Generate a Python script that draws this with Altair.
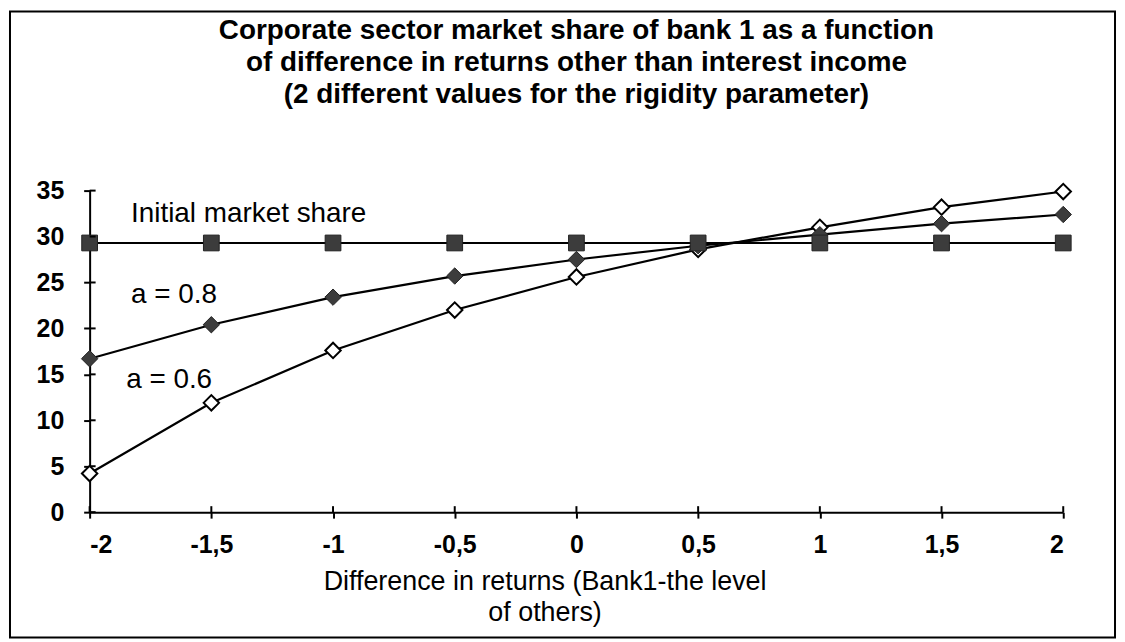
import altair as alt
import pandas as pd

# ---- data ----
x_vals = [-2, -1.5, -1, -0.5, 0, 0.5, 1, 1.5, 2]
initial_share = [29.3, 29.3, 29.3, 29.3, 29.3, 29.3, 29.3, 29.3, 29.3]
a_08 = [16.7, 20.4, 23.4, 25.7, 27.5, 29.0, 30.2, 31.4, 32.4]
a_06 = [4.2, 11.9, 17.6, 22.0, 25.6, 28.6, 31.0, 33.2, 34.9]

y_ticks = [0, 5, 10, 15, 20, 25, 30, 35]
x_ticks = [-2, -1.5, -1, -0.5, 0, 0.5, 1, 1.5, 2]

title_lines = [
    "Corporate sector market share of  bank 1 as a function",
    "of difference in returns other than interest income",
    "(2 different values for the rigidity parameter)",
]
x_title = ["Difference in returns (Bank1-the level", "of others)"]

ann_text = ["Initial market share", "a = 0.8", "a = 0.6"]
ann_x = [-1.83, -1.83, -1.85]
ann_y = [32.4, 23.6, 14.4]

FONT = "Liberation Sans"
W, H = 978, 323

df06 = pd.DataFrame({"x": x_vals, "y": a_06})
df08 = pd.DataFrame({"x": x_vals, "y": a_08})
dfin = pd.DataFrame({"x": x_vals, "y": initial_share})
ann = pd.DataFrame({"t": ann_text, "x": ann_x, "y": ann_y})
yt = pd.DataFrame({"y": y_ticks})
xt = pd.DataFrame({"x": x_ticks})

xscale = alt.Scale(domain=[-2, 2], nice=False, zero=False)
yscale = alt.Scale(domain=[0, 35], nice=False)

label_expr = "(datum.value < 0 ? '-' : '') + replace(toString(abs(datum.value)), '.', ',')"

xaxis = alt.Axis(
    values=x_ticks, labelExpr=label_expr, grid=False,
    labelFont=FONT, labelFontSize=25, labelFontWeight="bold", labelColor="black",
    labelPadding=15, tickSize=6, tickWidth=2, tickColor="black",
    domainColor="black", domainWidth=2,
    title=x_title, titleFont=FONT, titleFontSize=27, titleFontWeight="normal",
    titleColor="black", titleLineHeight=31, titleX=457, titleY=70,
    titleBaseline="middle", titleAlign="center",
)
yaxis = alt.Axis(
    values=y_ticks, grid=False, title=None,
    labelFont=FONT, labelFontSize=25, labelFontWeight="bold", labelColor="black",
    labelPadding=20, tickSize=6, tickWidth=2, tickColor="black",
    domainColor="black", domainWidth=2,
)

X = alt.X("x:Q", scale=xscale, axis=xaxis)
Y = alt.Y("y:Q", scale=yscale, axis=yaxis)

line06 = alt.Chart(df06).mark_line(color="black", strokeWidth=2.2).encode(x=X, y=Y)
pts06 = alt.Chart(df06).mark_point(
    shape="diamond", size=240, filled=True, fill="white", stroke="black",
    strokeWidth=2, opacity=1
).encode(x=X, y=Y)

line08 = alt.Chart(df08).mark_line(color="black", strokeWidth=2.2).encode(x=X, y=Y)
pts08 = alt.Chart(df08).mark_point(
    shape="diamond", size=270, filled=True, fill="#3c3c3c", stroke="#222222",
    strokeWidth=1, opacity=1
).encode(x=X, y=Y)

linein = alt.Chart(dfin).mark_line(color="black", strokeWidth=2.2).encode(x=X, y=Y)
ptsin = alt.Chart(dfin).mark_point(
    shape="square", size=250, filled=True, fill="#3c3c3c", stroke="#222222",
    strokeWidth=1, opacity=1
).encode(x=X, y=Y)

# inward half of the cross ticks
ytick_in = alt.Chart(yt).mark_rule(color="black", strokeWidth=2).encode(
    y=Y, x=alt.value(0), x2=alt.value(6)
)
xtick_in = alt.Chart(xt).mark_rule(color="black", strokeWidth=2).encode(
    x=X, y=alt.value(H), y2=alt.value(H - 6)
)

labels = alt.Chart(ann).mark_text(
    font=FONT, fontSize=28, align="left", baseline="middle", color="black"
).encode(x=X, y=Y, text="t:N")

title = alt.Chart(pd.DataFrame({"k": [0]})).mark_text(
    text=title_lines, font=FONT, fontSize=28, fontWeight="bold",
    lineHeight=32, align="center", baseline="middle", color="black"
).encode(x=alt.value(W / 2), y=alt.value(-160))

frame = alt.Chart(pd.DataFrame({"k": [0]})).mark_rect(
    fill=None, stroke="black", strokeWidth=2
).encode(
    x=alt.value(-80), x2=alt.value(1030), y=alt.value(-180), y2=alt.value(449)
)

chart = alt.layer(
    frame, line06, line08, linein, pts06, pts08, ptsin,
    ytick_in, xtick_in, labels, title
).properties(
    width=W, height=H,
    background="white",
    autosize=alt.AutoSizeParams(type="none"),
    padding={"left": 82, "top": 182, "right": 54, "bottom": 129},
).configure_view(stroke=None)

chart.save("out.html", embed_options={"renderer": "svg", "actions": False})
